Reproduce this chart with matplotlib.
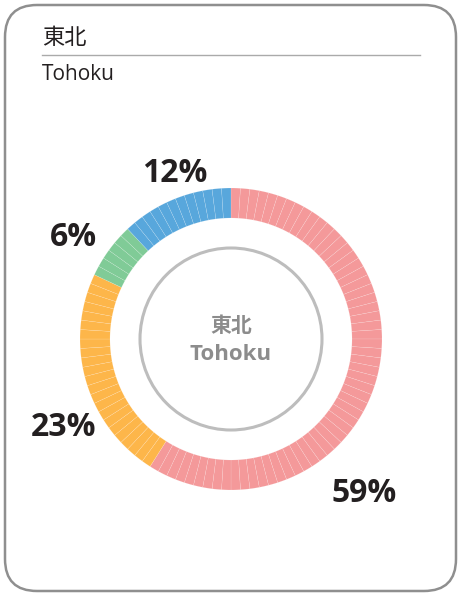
import matplotlib.pyplot as plt
from matplotlib.patches import FancyBboxPatch, Circle

# data
region_jp = '東北'
region_en = 'Tohoku'
shares = [59, 23, 6, 12]
colors = ['#f4999a', '#fdb64a', '#80cb97', '#58a7dc']
labels = ['59%', '23%', '6%', '12%']
label_pos = [(364, 494), (64, 428), (73, 237), (175, 173)]  # pixel positions

W, H = 461, 596
plt.rcParams['font.family'] = ['Noto Sans CJK JP', 'DejaVu Sans']

fig = plt.figure(figsize=(W / 100, H / 100), dpi=100)
ax = fig.add_axes([0, 0, 1, 1])

def Y(y):
    return H - y

# donut: each percent is one thin slice
cx, cy = 231, Y(339)
vals, cols = [], []
for s, c in zip(shares, colors):
    vals += [1] * s
    cols += [c] * s
ax.pie(vals, colors=cols, center=(cx, cy), radius=151, startangle=90, counterclock=False,
       wedgeprops=dict(width=30, edgecolor=(1, 1, 1, 0.35), linewidth=0.25), frame=True)
ax.set_xlim(0, W)
ax.set_ylim(0, H)
ax.set_aspect('equal')
ax.axis('off')

# frame
ax.add_patch(FancyBboxPatch((5, Y(591)), 451, 586, boxstyle='round,pad=0,rounding_size=32',
                            fc='none', ec='#8f8f8f', lw=1.8))

# header
ax.text(42, Y(38), region_jp, fontsize=16, color='#231f20', va='center', ha='left')
ax.plot([42, 420], [Y(55), Y(55)], color='#aaaaaa', lw=1)
ax.text(42, Y(75), region_en, fontsize=15, color='#231f20', va='center', ha='left',
        family=['Open Sans', 'DejaVu Sans'])

ax.add_patch(Circle((cx, cy), 91, fill=False, ec='#bdbdbd', lw=2.2))
ax.text(cx, Y(326), region_jp, fontsize=15, fontweight='bold', color='#8c8c8c',
        ha='center', va='center')
ax.text(cx, Y(355), region_en, fontsize=16, fontweight='bold', color='#8c8c8c',
        ha='center', va='center', family=['Open Sans', 'DejaVu Sans'])

for lab, (x, y) in zip(labels, label_pos):
    ax.text(x, Y(y), lab, fontsize=23, fontweight='bold', color='#231f20',
            ha='center', va='center', family=['Open Sans', 'DejaVu Sans'])

fig.savefig('out.png', dpi=100)
